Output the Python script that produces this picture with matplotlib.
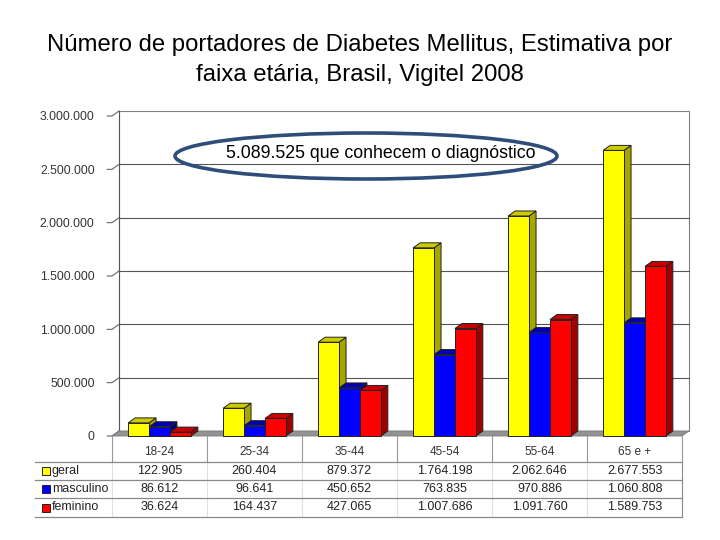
import matplotlib
matplotlib.use("Agg")
import matplotlib.pyplot as plt
from matplotlib.patches import Polygon, Rectangle, Ellipse
import matplotlib.transforms as mtransforms

plt.rcParams['font.family'] = ['Liberation Sans', 'DejaVu Sans']

# Data ------------------------------------------------------------
faixas = ['18-24', '25-34', '35-44', '45-54', '55-64', '65 e +']
series_names = ['geral', 'masculino', 'feminino']
geral = [122905, 260404, 879372, 1764198, 2062646, 2677553]
masculino = [86612, 96641, 450652, 763835, 970886, 1060808]
feminino = [36624, 164437, 427065, 1007686, 1091760, 1589753]
yticks = [0, 500000, 1000000, 1500000, 2000000, 2500000, 3000000]
nota = '5.089.525 que conhecem o diagnóstico'

# colours: front, top, side
cores = {
    'geral': ('#FFFF00', '#CCCC00', '#A6A600'),
    'masculino': ('#0000FF', '#0000B0', '#000080'),
    'feminino': ('#FF0000', '#C80000', '#A00000'),
}

def fmt(v):
    return f"{v:,}".replace(",", ".")

W, H = 720, 540
def fy(py):  # pixel row (from top) -> figure fraction
    return (H - py) / H
def fx(px):
    return px / W

fig = plt.figure(figsize=(7.2, 5.4), dpi=100)
fig.patch.set_facecolor('white')

# front plane of the plot
ax = fig.add_axes([fx(112), fy(436), fx(682) - fx(112), fy(116) - fy(436)])
ax.set_xlim(0, len(faixas))
ax.set_ylim(0, 3000000)
for s in ax.spines.values():
    s.set_visible(False)
ax.set_xticks([])
ax.set_yticks(yticks)
ax.set_yticklabels([fmt(t) for t in yticks], fontsize=8.8, color='#333333')
ax.tick_params(axis='y', length=0, pad=12.5)
ax.patch.set_alpha(0)

# depth offset in data units (~7px right, ~5px up)
dx = 7 / 95
dy = 5 / 320 * 3000000

n = len(faixas)
# back wall
ax.add_patch(Rectangle((dx, dy), n, 3000000, facecolor='white',
                       edgecolor='#808080', lw=0.8, clip_on=False, zorder=0))
for t in yticks[1:-1]:
    ax.plot([dx, n + dx], [t + dy, t + dy], color='#555555', lw=0.8,
            clip_on=False, zorder=1)
# left wall edge and slanted ticks
ax.plot([dx, dx], [dy, 3000000 + dy], color='#555555', lw=0.8, clip_on=False, zorder=1)
for t in yticks:
    ax.plot([-0.05, 0, dx], [t, t, t + dy], color='#666666', lw=0.8,
            clip_on=False, zorder=1)
# floor
ax.add_patch(Polygon([(0, 0), (n, 0), (n + dx, dy), (dx, dy)], closed=True,
                     facecolor='#939393', edgecolor='#777777', lw=0.6,
                     clip_on=False, zorder=2))

# bars -------------------------------------------------------------
valores = [geral, masculino, feminino]
bw = 0.22
off = (1 - 3 * bw) / 2
z = 3
for i in range(n):
    for j, nome in enumerate(series_names):
        h = valores[j][i]
        x0 = i + off + j * bw
        x1 = x0 + bw
        front, top, side = cores[nome]
        ax.add_patch(Polygon([(x1, 0), (x1 + dx, dy), (x1 + dx, h + dy), (x1, h)],
                             closed=True, facecolor=side, edgecolor='#222222',
                             lw=0.7, clip_on=False, zorder=z))
        ax.add_patch(Polygon([(x0, h), (x1, h), (x1 + dx, h + dy), (x0 + dx, h + dy)],
                             closed=True, facecolor=top, edgecolor='#222222',
                             lw=0.7, clip_on=False, zorder=z))
        ax.add_patch(Rectangle((x0, 0), bw, h, facecolor=front,
                               edgecolor='#222222', lw=0.7, clip_on=False, zorder=z + 0.5))
        z += 1

# data table -------------------------------------------------------
tb = mtransforms.blended_transform_factory(ax.transData, fig.transFigure)
ff = fig.transFigure
row_lines = [462, 480, 498, 517]
for py in row_lines:
    fig.add_artist(plt.Line2D([fx(35), fx(682)], [fy(py), fy(py)],
                              color='#888888', lw=0.9))
for k in range(n + 1):
    ax.plot([k, k], [fy(436), fy(462)], transform=tb, color='#999999', lw=0.8,
            clip_on=False)
    ax.plot([k, k], [fy(462), fy(517)], transform=tb,
            color='#888888' if k == n else '#E0E0E0', lw=0.8, clip_on=False)

for i, lab in enumerate(faixas):
    ax.text(i + 0.5, fy(452), lab, transform=tb, ha='center', va='center',
            fontsize=8.5, color='#333333')

row_centers = [471, 489, 507.5]
for j, nome in enumerate(series_names):
    yc = fy(row_centers[j])
    front = cores[nome][0]
    fig.add_artist(Rectangle((fx(42), yc - 4 / H), 8 / W, 8 / H, transform=ff,
                             facecolor=front, edgecolor='#222222', lw=0.7))
    fig.text(fx(52), yc, nome, ha='left', va='center', fontsize=9, color='#222222')
    for i in range(n):
        ax.text(i + 0.5, yc, fmt(valores[j][i]), transform=tb, ha='center',
                va='center', fontsize=9, color='#222222')

# annotation ellipse -------------------------------------------------
fig.add_artist(Ellipse((fx(366), fy(156)), 382 / W, 46 / H, transform=ff,
                       facecolor='none', edgecolor='#2E4D7B', lw=2.6))
fig.text(fx(381), fy(154), nota, ha='center', va='center', fontsize=12.8,
         color='black')

# title ------------------------------------------------------------
fig.text(0.5, fy(45), 'Número de portadores de Diabetes Mellitus, Estimativa por',
         ha='center', va='center', fontsize=17.2)
fig.text(0.5, fy(75), 'faixa etária, Brasil, Vigitel 2008',
         ha='center', va='center', fontsize=17.2)

fig.savefig('out.png', dpi=100)
